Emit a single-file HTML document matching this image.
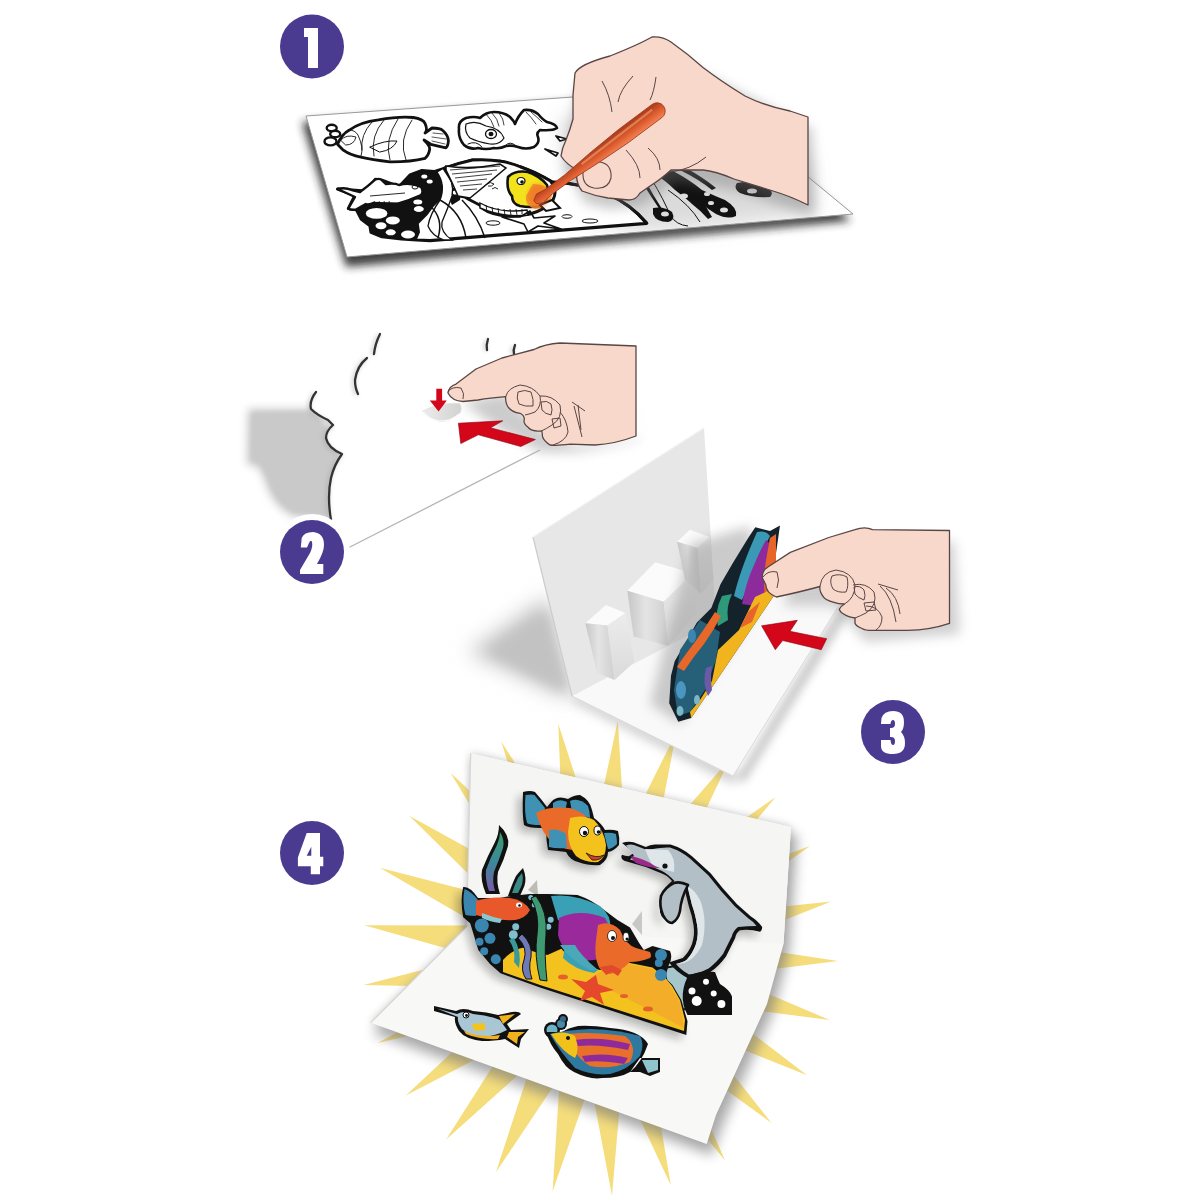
<!DOCTYPE html>
<html><head><meta charset="utf-8"><title>Steps</title>
<style>
html,body{margin:0;padding:0;background:#fff;width:1200px;height:1200px;overflow:hidden;font-family:"Liberation Sans",sans-serif;}
svg{display:block;position:absolute;left:0;top:0;}
</style></head><body>
<svg width="1200" height="1200" viewBox="0 0 1200 1200">
<defs>
<filter id="b2" x="-50%" y="-50%" width="200%" height="200%"><feGaussianBlur stdDeviation="2"/></filter>
<filter id="b4" x="-50%" y="-50%" width="200%" height="200%"><feGaussianBlur stdDeviation="4"/></filter>
<filter id="b6" x="-50%" y="-50%" width="200%" height="200%"><feGaussianBlur stdDeviation="6"/></filter>
<filter id="b10" x="-50%" y="-50%" width="200%" height="200%"><feGaussianBlur stdDeviation="10"/></filter>
</defs>
<rect width="1200" height="1200" fill="#fff"/>

<!-- ===== STEP 1 ===== -->
<g id="s1">
<polygon points="302,122 700,93 851,221 346,267" fill="#222" filter="url(#b4)" opacity="0.85"/>
<polygon points="306,116 700,88 853,214 347,257" fill="#fff" stroke="#999" stroke-width="1"/>
<!-- hand shadow on sheet -->
<path d="M560,120 L700,90 L809,160 L815,214 L720,226 L640,232 L575,215 Z" fill="#999" opacity="0.35" filter="url(#b10)"/>
<g stroke="#111" stroke-linejoin="round" stroke-linecap="round" fill="none">
 <!-- fish 1 bubbles -->
 <ellipse cx="331.7" cy="128" rx="5" ry="3.2" stroke-width="2.4" fill="#fff"/>
 <ellipse cx="335.2" cy="134" rx="5" ry="3.2" stroke-width="2.4" fill="#fff"/>
 <ellipse cx="330.5" cy="141.4" rx="6" ry="4" stroke-width="2.4" fill="#fff"/>
 <!-- fish 1 body -->
 <path d="M337.5,144.3 Q342,134 349,130.3 Q360,122 378.3,119.8 Q400,116 413.3,117.5 Q423,119 425,123.3 Q428,130 425,133 L432,128 Q440,128 442.5,130.3 Q448,135 448.4,140.8 Q448,146 446,147.8 Q438,146 430.8,144.3 L424,140 Q430,146 429.7,149 Q429,155 425,158.3 Q410,162 390,161.8 Q372,160 360.8,157.2 Q350,155 343.3,150.2 Z" stroke-width="2.8" fill="#fff"/>
 <path d="M361,156 Q364,148 358,135 Q355,130 349,130 M372,122 Q360,135 362,150 M384,120 Q370,136 374,156 M398,119 Q384,140 390,160 M412,120 Q398,140 406,160" stroke-width="0.9"/>
 <path d="M370,147 Q385,140 397,141 Q393,150 380,152 Z" stroke-width="1"/>
 <path d="M341,140 Q346,134 356,137 Q354,145 346,145 Z" stroke-width="0.9"/>
 <path d="M432,137 L446,139 M433,133 L443,134 M432,141 L445,144" stroke-width="0.7"/>
 <!-- fish 2 -->
 <path d="M459,129 Q458,121 466,118 Q474,116 480,118 Q486,112 494,112 Q504,112 510,117 Q514,121 515,124 Q518,116 524,110 Q532,109 538,114 Q543,120 547,122 Q556,124 557,128 Q553,131 540,130 Q536,133 538,137 Q540,143 534,147 Q526,150 518,147 Q512,145 506,146 Q500,149 494,148 Q486,150 478,148 Q470,150 464,145 Q458,138 459,129 Z" stroke-width="2.6" fill="#fff"/>
 <path d="M486,114 Q492,120 494,127 M492,113 Q498,119 499,126 M499,113 Q504,119 504,125 M526,112 Q532,118 536,124 M531,112 Q537,117 542,122" stroke-width="0.8"/>
 <path d="M466,124 Q476,120 486,126 Q500,128 504,138 Q500,145 490,144 Q478,142 470,138 Q464,132 466,124 Z" stroke-width="1.2"/>
 <ellipse cx="491" cy="134" rx="5.5" ry="4.5" stroke-width="1.3"/>
 <ellipse cx="491" cy="134" rx="2.5" ry="2.2" fill="#111" stroke="none"/>
 <path d="M468,144 Q476,140 482,147 M505,146 Q510,140 516,146" stroke-width="1"/>
 <path d="M556,136 L567,139 L560,141 Z M545,149 L558,153 L556,156 Z" stroke-width="1.8" fill="#fff"/>
</g>
<!-- lower piece outline -->
<path d="M337.6,189 L351.7,190 L365.8,191 L375.5,179.3 L382,180.3 L399,186.8 L410,175 L422,170.6 L434,171.7 L444,168.4 L472.5,160 L500.8,161.3 L520.7,167 L543.3,177 L552,182 Q615,185 646.7,223.3 L430,240.6 L416.7,240 L401.5,238.8 L382,236.7 L371,232.3 L370,225.8 L361.4,219.3 L357,210.7 L356,209.6 L348.4,208.5 L355,195.5 Z" fill="#fff" stroke="#111" stroke-width="3.2" stroke-linejoin="round"/>
<!-- black mass left -->
<path d="M365.8,191 L375.5,181 L382,182 L399,187 L410,175 L422,170.6 L434,171.7 L442,168.8 L447,180 L447,193.3 L438.3,202 L434,206.3 L427.5,215 L418.8,223.7 L420,232.3 L416.7,240 L401.5,238.8 L382,236.7 L371,232.3 L370,225.8 L361.4,219.3 L357,210.7 L360,204 Z" fill="#111"/>
<path d="M440,170 L460,163 L462,180 L460,200 L452,205 L447,195 Z" fill="#111"/>
<!-- white bubbles -->
<g fill="#fff">
 <ellipse cx="376.6" cy="213.4" rx="10.8" ry="5.4"/>
 <ellipse cx="392.8" cy="220.4" rx="7" ry="4"/>
 <ellipse cx="381" cy="225.8" rx="5.5" ry="3.5"/>
 <ellipse cx="390.7" cy="232.3" rx="5" ry="3"/>
 <ellipse cx="408" cy="234.5" rx="7" ry="4"/>
 <ellipse cx="417.8" cy="202" rx="4.5" ry="2.5"/>
 <ellipse cx="418.8" cy="209" rx="5" ry="3"/>
 <ellipse cx="424.3" cy="176.5" rx="3" ry="2"/>
 <ellipse cx="429.7" cy="181.4" rx="3" ry="2"/>
 <ellipse cx="454" cy="186" rx="3" ry="2"/>
 <ellipse cx="455.5" cy="192.5" rx="3" ry="2"/>
</g>
<!-- white seaweed strand -->
<path d="M437,172 Q446,185 440,200 Q430,214 428,226 Q432,236 444,240 L452,240 Q440,232 442,222 Q448,208 452,196 Q455,182 444,168 Z" fill="#fff" stroke="#111" stroke-width="1.3"/>
<!-- swordfish -->
<path d="M337.6,189 Q345,187 351.7,190 L360,192 Q368,186 375.5,179.3 Q380,178 382,180.3 L386,184 Q395,183 399,185 Q410,182 421,187 Q424,192 421,195 Q410,200 397,204 L373,203 Q368,205 365.8,204 L356,209.6 Q350,210 348.4,208.5 L355,197 Z" fill="#fff" stroke="#111" stroke-width="2.4" stroke-linejoin="round"/>
<path d="M370,196 L405,193 M374,203 L398,203" stroke="#111" stroke-width="0.9"/>
<path d="M374,201 L376,204 M379,201 L380,204 M384,201 L385,204 M389,201 L390,204" stroke="#111" stroke-width="0.8"/>
<ellipse cx="415" cy="187" rx="3" ry="2" fill="none" stroke="#111" stroke-width="1"/>
<!-- big fish -->
<path d="M444,168.4 Q458,163 472.5,160 Q488,159 500.8,161.3 Q512,163 520.7,167 Q535,172 543.3,177 L550.4,181 Q558,190 553,200 Q545,210 530,214 Q515,217 500.8,215.2 Q485,213 479.6,205 L470,200 Q465,196 460,196 Q455,185 444,168.4 Z" fill="#fff" stroke="#111" stroke-width="3" stroke-linejoin="round"/>
<path d="M446,166 Q470,170 500,164 L506,168 Q480,190 470,198 L458,196 Q452,182 446,170 Z" fill="#fff" stroke="#111" stroke-width="1.6"/>
<path d="M450,170 L500,166 M452,174 L497,170 M455,178 L492,174 M457,182 L487,179 M460,186 L482,184 M463,190 L477,189" stroke="#111" stroke-width="0.8"/>
<path d="M480,203 Q500,214 527,210 L528,215 Q503,218 480,208 Z" fill="#fff" stroke="#111" stroke-width="1.4"/>
<path d="M486,205 L487,212 M492,207 L493,214 M498,208 L499,215 M504,209 L505,215 M510,209 L511,215 M516,209 L517,215 M522,209 L522,214" stroke="#111" stroke-width="0.9"/>
<path d="M487,184 Q490,181 494,184 Q492,187 488,186 M492,189 Q495,186 498,189" stroke="#111" stroke-width="0.9" fill="none"/>
<!-- seaweed lines -->
<path d="M430,206 Q444,218 438,238 M440,200 Q462,212 466,238 M462,200 Q478,216 485,238" stroke="#111" stroke-width="1.5" fill="none"/>
<!-- starfish & bubbles bottom -->
<path d="M502,217 L520,217 L530,211 L534,218 L555,216 L544,223 L561,229 L538,226 L528,232 L524,224 Z" fill="none" stroke="#111" stroke-width="1.6" stroke-linejoin="round"/>
<ellipse cx="493" cy="223" rx="7" ry="2.2" fill="none" stroke="#111" stroke-width="1"/>
<ellipse cx="567" cy="216.5" rx="5" ry="1.8" fill="none" stroke="#111" stroke-width="1"/>
<ellipse cx="590" cy="221" rx="8" ry="2" fill="none" stroke="#111" stroke-width="1"/>
<!-- yellow painted fish head -->
<path d="M508,177 Q515,170 528,172 Q540,176 547,185 Q550,198 542,206 Q530,208 520,206 Q512,204 512,196 Q506,190 508,177 Z" fill="#f3e31d" stroke="#111" stroke-width="2.6"/>
<path d="M533,184 Q548,184 552,195 Q550,208 535,209 Q525,206 526,196 Z" fill="#ef8a2a" opacity="0.85"/>
<ellipse cx="521" cy="181" rx="4" ry="3.5" fill="#fff" stroke="#111" stroke-width="1.2"/>
<circle cx="522" cy="182" r="1.8" fill="#111"/>
<path d="M540,205 L552,200 L560,208 L546,211 Z" fill="#fff" stroke="#111" stroke-width="2"/>
<!-- piece right curve -->
<path d="M552,182 Q615,185 646.7,223.3" stroke="#111" stroke-width="3.2" fill="none"/>
<!-- right black seaweed stripes -->
<g fill="#111">
 <path d="M641.7,181.7 Q650,195 660,210 L662,209 Q653,195 645,180 Z"/>
 <path d="M653,173 Q665,180 675,190 Q688,200 692,204 Q700,210 708,219 L712,217 Q706,206 700,198 Q690,188 680,178 Q668,170 660,168 Z"/>
 <path d="M673,171 Q690,180 702,190 Q715,196 725,200 Q738,208 736,216 Q728,220 716,214 Q700,204 690,194 Q676,182 668,172 Z"/>
 <path d="M653,208 Q664,206 672,212 Q676,220 668,222 Q656,222 653,214 Z"/>
 <path d="M737,183 Q752,180 766,186 Q775,192 770,197 Q752,198 740,193 Q733,188 737,183 Z"/>
 <path d="M680,170 Q700,180 712,190 L716,188 Q704,178 686,168 Z"/>
</g>
<g fill="#ddd">
 <ellipse cx="684" cy="196" rx="4" ry="2.5"/><ellipse cx="707" cy="194" rx="3" ry="2"/><ellipse cx="711" cy="203" rx="3" ry="2"/>
 <ellipse cx="724" cy="210" rx="4" ry="2.5"/><ellipse cx="752" cy="191" rx="5" ry="2.5"/><ellipse cx="665" cy="214" rx="4" ry="2.5"/>
</g>
<path d="M652,180 Q664,200 670,215 Q676,225 688,226 M668,190 Q690,205 700,222" stroke="#111" stroke-width="1" fill="none"/>
<!-- hand shadow -->
<path d="M575,78 L652,42 L809,122 L812,210 L735,184 L672,174 L640,198 L607,202 L582,196 L562,160 Z" fill="#777" filter="url(#b6)" opacity="0.4" transform="translate(3,7)"/>
<!-- hand -->
<path d="M575,73 Q580,64 610,56 Q640,44 652,37 Q662,36 671,42 Q688,54 703,67.5 Q722,82 745,96 Q765,106 790,111 L808,117 L808,205 Q790,196 773,191 L734,179 Q715,171 703,170 L671,170 Q660,180 650,186 L640,193 Q636,200 629,200 L608,198 Q595,196 582,191 Q575,182 577,170 Q566,164 561,156 Q562,148 566,140 Q570,130 573,119 L573,95 Z" fill="#f8d8ca" stroke="#5a4545" stroke-width="1.3" stroke-linejoin="round"/>
<path d="M602,81 Q610,95 612,112 M633,76 Q620,90 618,102 M656,77 Q654,92 650,100 M626,150 Q640,165 640,178 M648,148 Q660,158 660,170 M706,157 Q690,170 670,172" stroke="#5a4545" stroke-width="1" fill="none"/>
<path d="M583,172 Q585,160 600,162 Q612,164 611,178 Q608,190 594,188 Q582,186 583,172 Z" fill="none" stroke="#5a4545" stroke-width="1.1"/>
<!-- pen glow -->
<ellipse cx="538" cy="196" rx="10" ry="12" fill="#f06a2a" opacity="0.55" filter="url(#b2)"/>
<!-- pen -->
<defs><linearGradient id="peng" gradientUnits="userSpaceOnUse" x1="539.8" y1="208.4" x2="530.2" y2="195.6"><stop offset="0" stop-color="#f08050"/><stop offset="0.45" stop-color="#dc5a2e"/><stop offset="1" stop-color="#a63a1a"/></linearGradient></defs>
<path d="M536.2,203.6 L543.1,202.8 L549.4,196.2 L569.5,181.3 L599.0,162.4 L628.1,142.8 L661.9,117.6 A8.2,8.2 0 0 0 652.1,104.4 L652.1,104.4 L618.3,129.7 L591.2,151.9 L564.7,174.9 L544.6,189.8 L536.5,194.0 L533.8,200.4 Z" fill="url(#peng)" stroke="#9a3015" stroke-width="0.8"/>
<path d="M581.6,164.1 L652.2,109.6" stroke="#f5a070" stroke-width="2.2" opacity="0.6"/>
</g>

<!-- ===== STEP 2 ===== -->
<g id="s2">
<!-- gray shadow -->
<path d="M248,409 L312,409 L340,440 L336,520 L292,516 Q276,508 268,490 Q262,472 258,467 L247,464 Z" fill="#c9c9c9" filter="url(#b4)"/>
<path d="M252,413 L312,412 L336,440 L334,516 L294,512 Q280,504 272,488 Q266,472 260,463 L251,460 Z" fill="#c9c9c9" filter="url(#b2)"/>
<!-- white card body -->
<path d="M316,392 Q309,401 311,409 Q317,415 328,420 L333,425 Q326,431 326,438 Q328,448 342,454 Q334,465 331,478 Q327,496 331,520 L348,548 L540,450 L636,440 L636,346 L515,344 Q500,336 487,339 Q450,330 380,334 Q374,345 374,354 Q360,360 356,370 Q354,382 358,394 Z" fill="#fff"/>
<g fill="none" stroke="#999" stroke-width="3" opacity="0.5" filter="url(#b2)" transform="translate(-1.5,1)">
 <path d="M316,392 Q309,401 311,409 Q317,415 328,420 L333,425 Q326,431 326,438 Q328,448 342,454 Q334,465 331,478 Q327,496 331,520"/>
 <path d="M380,334 Q375,344 374,354"/>
 <path d="M367,358 Q357,366 355,380 Q355,388 358,394"/>
 <path d="M488,339 Q486,345 487,350"/>
 <path d="M515,345 Q513,350 514,354"/>
</g>
<g fill="none" stroke="#333" stroke-width="2.3" stroke-linecap="round" stroke-linejoin="round">
 <path d="M316,392 Q309,401 311,409 Q317,415 328,420 L333,425 Q326,431 326,438 Q328,448 342,454 Q334,465 331,478 Q327,496 331,520"/>
 <path d="M380,334 Q375,344 374,354"/>
 <path d="M367,358 Q357,366 355,380 Q355,388 358,394"/>
 <path d="M488,339 Q486,345 487,350"/>
 <path d="M515,345 Q513,350 514,354"/>
</g>
<path d="M348,548 L540,450" stroke="#b5b5b5" stroke-width="1.3" fill="none"/>
<!-- hand shadow -->
<path d="M462,402 L505,393 L540,430 L578,446 L640,438 L646,350 L640,440 L580,452 L540,452 L500,430 Z" fill="#999" opacity="0.5" filter="url(#b6)"/>
<!-- sticker -->
<defs><linearGradient id="stk" x1="0" y1="0" x2="1" y2="0"><stop offset="0" stop-color="#ececec"/><stop offset="1" stop-color="#d2d2d2"/></linearGradient></defs>
<path d="M422.5,411 Q440,402 460,403.5 Q463,410 459,414 Q450,422 440,421.5 Q428,419 422.5,411 Z" fill="url(#stk)" stroke="#e2e2e2" stroke-width="0.8"/>
<path d="M423,412 Q430,420 440,421 Q452,421 459,414" fill="none" stroke="#fafafa" stroke-width="1.2"/>
<!-- small down arrow -->
<path d="M436.3,388.8 L442.1,388.8 L442.1,400.4 L446.8,400.4 L438.6,411.5 L429.8,400.4 L436.3,400.4 Z" fill="#d4061a"/>
<!-- big arrow -->
<path d="M458.4,423.2 L502.8,420.8 L490.5,427.8 L535.4,439.5 L520.8,446.5 L478.3,434.8 L460.8,443.6 Z" fill="#d4061a" stroke="#8a0010" stroke-width="0.6"/>
<!-- hand -->
<path d="M448,393 Q449,386 456,384 L476,369 L502,358 L534,349.5 Q545,344 560,343 L636,346 L636,436 Q615,444 595,445 L570,444.2 Q556,446 550,445 Q544,441 542.5,436.7 Q542,431 541.7,430.8 Q532,432 528.3,427.5 Q523,423 524.2,420 Q525,416 520,413.3 Q510,412 507,405 Q505,400 505.8,396.7 Q490,398 478,400 L463,401.5 Q452,401 448,393 Z" fill="#f8d8ca" stroke="#5a4545" stroke-width="1.3" stroke-linejoin="round"/>
<g fill="none" stroke="#5a4545" stroke-width="1">
 <path d="M447.5,392 Q452,386 461,388 Q465,394 463,399"/>
 <path d="M506,396 Q508,388 520,385 Q533,386 540,396 Q542,406 535,412 Q530,414 525,415"/>
 <path d="M518,392 Q525,389 531,392 Q534,400 533,406 Q525,407 519,404 Q516,398 518,392 Z"/>
 <path d="M540,396 Q552,395 560,405 Q563,418 552,425 Q546,429 541.7,430.8"/>
 <path d="M541,402 Q547,400 551,404 Q553,410 551,415 Q545,414 542,410 Z"/>
 <path d="M560,412 Q567,420 568,432 Q566,441 553,445"/>
 <path d="M552,419 L560,418 L561,426 L554,428 Z"/>
 <path d="M572,402 L585,411 M574,406 L582,437 M578,405 L581,430"/>
</g>
</g>

<!-- ===== STEP 4 ===== -->
<g id="s4">
<!-- sunburst -->
<path d="M838.0,960.9 L723.8,975.2 L829.8,1020.0 L715.7,1005.4 L807.1,1075.2 L700.2,1032.7 L771.5,1123.0 L678.5,1055.3 L725.1,1160.5 L651.8,1071.7 L670.8,1185.2 L621.9,1081.1 L612.0,1195.7 L590.6,1082.6 L552.6,1191.2 L559.9,1076.4 L496.0,1172.1 L531.7,1062.7 L446.1,1139.5 L507.8,1042.4 L405.8,1095.5 L489.7,1016.9 L377.7,1042.9 L478.6,987.6 L363.5,984.9 L475.0,956.5 L364.3,925.3 L479.3,925.4 L379.8,867.7 L491.2,896.4 L409.2,815.8 L509.9,871.3 L450.5,772.8 L534.3,851.6 L501.3,741.4 L562.8,838.7 L558.3,723.7 L593.7,833.2 L617.8,720.7 L624.9,835.5 L676.3,732.6 L654.6,845.6 L730.0,758.6 L680.8,862.7 L775.5,797.2 L702.0,885.8 L809.9,845.9 L716.8,913.4 L831.2,901.6 L724.2,943.8 Z" fill="#f5dd7c"/>
<!-- card shadow -->
<path d="M471,756 L794,830 L786,946 L770,1006 L720,1118 L708,1150 L368,1028 L466,930 Z" fill="#777" opacity="0.55" filter="url(#b6)" transform="translate(4,6)"/>
<path d="M470.7,753.3 L791,827 L783.5,944 L767,1004 L716,1115 L706.7,1144 L370.7,1022.7 L466.7,926.7 Z" fill="#888" opacity="0.45" filter="url(#b4)"/>
<!-- card -->
<path d="M470.7,753.3 L791,827 L783.5,944 L767,1004 L716,1115 L706.7,1144 L370.7,1022.7 L466.7,926.7 Z" fill="#f8f8f6"/>
<path d="M470.7,753.3 L791,827 L783.5,944 L466.7,926.7 Z" fill="#f5f5f4"/>
<path d="M470.7,753.3 L466.7,926.7 L370.7,1022.7" fill="none" stroke="#d6d6d6" stroke-width="1.2"/>
<!-- scene 4 -->
<!-- tabs -->
<path d="M528,890 L537,880 L538,896 Z" fill="#bdbdb5"/>
<path d="M632,924 L642,911 L642,935 Z" fill="#c8c8c8"/>
<!-- scene shadows -->
<g fill="#000" opacity="0.28" filter="url(#b4)" transform="translate(-5,5)">
 <use href="#cfo"/><use href="#dolo"/><use href="#reefo"/>
</g>
<!-- top clownfish -->
<path id="cfo" d="M523,792 Q530,790 535,792 Q542,800 547,807 L552,801 Q558,795 568,799 Q574,795 580,795 Q590,800 592,810 L594,818 Q602,824 605,830 Q612,829 618,831 Q620,838 619,845 Q614,851 608,852 Q608,860 600,865 Q590,866 578,862 Q570,860 566,852 Q558,851 548,850 Q546,840 546,828 L540,828 Q528,828 524,825 Q522,815 523,792 Z" fill="#111"/>
<path d="M525.5,795 Q532,794 534.5,795 L545,808 L540,825 Q530,825 527,823 Q524,812 525.5,795 Z" fill="#3f92b4"/>
<path d="M553,803 Q559,798 567,802 L565,812 L553,812 Z" fill="#3f92b4"/>
<path d="M570,801 Q579,797 588,806 Q590,812 590,818 L572,812 Z" fill="#3f92b4"/>
<path d="M536,813 Q548,806 570,808 Q585,812 590,822 Q592,838 585,850 Q570,852 555,845 Q542,835 536,813 Z" fill="#ea6a2a"/>
<path d="M570,818 Q583,814 594,820 Q604,830 606,845 Q606,858 598,862 Q585,863 576,856 Q568,846 568,832 Z" fill="#f4c21c"/>
<path d="M549,830 Q558,828 566,834 L567,848 Q556,849 549,847 Z" fill="#3f92b4"/>
<path d="M604,833 Q611,832 616,834 Q617,840 617,844 Q612,849 608,849 Z" fill="#3f92b4"/>
<ellipse cx="584" cy="831.5" rx="4.5" ry="5" fill="#fff" stroke="#111" stroke-width="1"/>
<ellipse cx="597.5" cy="830.5" rx="3.5" ry="4.5" fill="#fff" stroke="#111" stroke-width="1"/>
<circle cx="585" cy="833" r="2.2" fill="#111"/><circle cx="598.5" cy="832" r="1.8" fill="#111"/>
<path d="M586,853 Q596,859 604,855 Q600,861 592,860 Z" fill="#d0402a" stroke="#111" stroke-width="0.8"/>
<!-- dolphin -->
<path d="M686,964 L693,1008 L680,1010 L668,990 L664,968 Z" fill="#a6c6cc" stroke="#111" stroke-width="2"/>
<path id="dolo" d="M622,843.1 Q628,841 633.5,842.3 L645.8,847 Q650,845 655,844.6 L670.5,844.6 Q682,848 692,856.2 L710.6,873.2 L723,888.6 L736.8,904 L750.6,916.3 Q758,921 762.2,927.1 Q762,931 760,931.7 Q750,929 739.9,930.2 Q736,933 735.2,937.9 L726,956.4 Q719,966 710.6,971.8 Q698,978 687.4,978 Q676,972 669,962.6 Q676,960 682.8,958 Q689,952 692,944 Q695,935 693.6,925.6 Q692,915 689,907 L684.4,888.6 Q680,886 676.7,887 Q670,889 665.9,894.7 Q663,902 664.3,910.2 Q666,918 669,921 Q662,920 660,912 Q659,898 664,890 Q668,884 672,880.9 Q667,875 661.2,873.2 L645.8,867 L624.2,860.8 Q620,858 622,854.7 Q625,856 628.9,856.2 Q632,854 635,853 Q628,848 622,843.1 Z" fill="#111"/>
<path d="M626,845.5 Q630,844 634,845 L647,850 Q660,847 670,847.5 Q681,851 690,858.5 L708.5,875.5 L721,891 L735,906.5 L748.5,918.5 Q754,922 756.5,926 Q748,926 738,927 Q733,931 732,936 L723,954 Q716,963 708.5,968.5 Q698,974 689,974.5 Q681,970 676,964 Q684,962 686.5,960 Q693,953 696,944 Q699,934 697,924.5 Q695,913 692,905 L687.5,886.5 Q681,883 675.5,884 Q668,886 663,893 Q661,898 661,905 Q661,895 666,888 L674.5,881 Q668,874 662,871 L646,864 L630,859.5 L634,856 Q632,852 626,845.5 Z" fill="#b3bfc6"/>
<path d="M687.5,886.5 L692,905 Q695,913 697,924.5 Q699,934 696,944 Q693,953 686.5,960 Q684,962 676,964 Q692,965 702,945 Q708,920 700,900 Q695,890 687.5,886.5 Z" fill="#dfe6e9"/>
<path d="M645,849 L668,850 Q676,858 674,872 Q664,870 652,865 Q648,857 645,849 Z" fill="#dfe6e9"/>
<path d="M631,856 Q645,859 655,866 L660,868 Q648,868 636,863 Q632,860 631,856 Z" fill="#9a2a8a"/>
<circle cx="665" cy="866" r="2.6" fill="#111"/>
<path d="M688,885 Q680,881 674,883 Q665,887 661,896 Q659,906 663,915 Q667,923 672,923 Q678,920 680,911 Q681,898 688,885 Z" fill="#b3bfc6" stroke="#111" stroke-width="2.6" stroke-linejoin="round"/>
<!-- black bubble piece below dolphin -->
<path d="M689,975 Q702,970 715,972 Q718,980 720,984 Q730,990 732,996.5 L732,1015 L687.5,1015 Q682,1005 682.8,993.4 Q684,982 689,975 Z" fill="#111"/>
<g fill="#fff"><circle cx="706" cy="981.8" r="3"/><circle cx="692" cy="991" r="3.5"/><circle cx="713.7" cy="993.4" r="3"/><circle cx="696.7" cy="1001" r="5"/><circle cx="721.4" cy="1004" r="4"/></g>
<!-- seaweed tall -->
<defs><linearGradient id="swg" x1="0" y1="0" x2="0" y2="1"><stop offset="0" stop-color="#3f9a6a"/><stop offset="0.5" stop-color="#3a8a9a"/><stop offset="1" stop-color="#7a5aa8"/></linearGradient></defs>
<path d="M499,825 Q510,835 508,846 Q504,860 498,872 Q496,882 500,894 L486,894 Q480,880 482,870 Q488,855 495,842 Q499,834 499,825 Z" fill="#111"/>
<path d="M500,832 Q505,840 503,848 Q499,860 494,872 Q492,882 495,891 L489,891 Q485,880 486,870 Q491,856 497,845 Q500,838 500,832 Z" fill="url(#swg)"/>
<path d="M523,868 Q527,878 524.4,886 L520,896 L508,896 Q512,884 516,876 Q520,871 523,868 Z" fill="#111"/>
<path d="M522,873 Q524,880 521,887 L518,893 L512,893 Q515,884 518,878 Z" fill="#3a8a88"/>
<!-- reef piece -->
<path id="reefo" d="M463.2,887 Q470,886 478,898 L500,898 L508.7,896.3 L530,894 L548.3,894 L577.5,895 Q592,900 602.5,908.8 L617.5,920 L630,927.5 L638.8,942.5 L643.8,950 L652.5,946 L670,951 Q673,958 668.8,965 L665,977.5 L672.5,985 L681.3,1000 L687.5,1021.3 L686.3,1035 L540,987.5 L500.5,973.3 L490,964 L478.3,950 L474.8,938.3 L470.2,923.2 L463.2,917.3 Q460,900 463.2,887 Z" fill="#111"/>
<!-- yellow sand -->
<path d="M503,960 Q512,950 522.7,947.7 L535,952 L547.5,955 L561.3,948.8 Q575,965 600,970 L627.5,962.5 L652.5,967.5 L665,977.5 L672,986 L680,1000 L685,1020 L684,1031 L540,985 L503,972 Z" fill="#f4c21e"/>
<path d="M600,972 L627.5,964 L652.5,969 L668,982 L680,1002 L684,1028 Q650,1010 620,995 Q600,985 590,978 Z" fill="#f2a82a" opacity="0.8"/>
<!-- starfish -->
<path d="M571,979 L586,982 L596,975 L598,984 L614,990 L600,993 L604,1005 L592,997 L580,1001 L585,991 Z" fill="#e5482a"/>
<g fill="#e5602a"><ellipse cx="563" cy="977" rx="5" ry="2.5"/><ellipse cx="624" cy="996" rx="4" ry="2"/><ellipse cx="648" cy="1009" rx="5" ry="2.5"/></g>
<!-- small orange fish -->
<path d="M464.5,889 Q472,892 478,900 L476,916 Q470,916 465.5,915 Q462,902 464.5,889 Z" fill="#3a86ae"/>
<path d="M476,901 Q490,896 510,898 Q524,900 530,910 Q526,918 515,920 Q495,921 476,915 Z" fill="#e8582a"/>
<path d="M482,913 Q492,917 502,919 L500,923 Q490,922 482,918 Z" fill="#8ac8d0"/>
<ellipse cx="519" cy="905" rx="3" ry="2.5" fill="#fff"/><circle cx="519.5" cy="905.5" r="1.3" fill="#111"/>
<!-- bubbles on black -->
<g fill="#3a86b0"><circle cx="481.8" cy="925.5" r="7"/><circle cx="490" cy="938.3" r="5.5"/><circle cx="479.5" cy="941.8" r="4"/><circle cx="484.2" cy="951.2" r="4"/><circle cx="495.8" cy="959.3" r="5"/></g>
<g fill="#7fbfcf"><circle cx="513.3" cy="934.8" r="4.5"/><circle cx="515.7" cy="926.7" r="3.5"/><circle cx="530.8" cy="897.5" r="2.5"/><circle cx="534.3" cy="905" r="2.5"/><circle cx="550.7" cy="919.7" r="3"/><circle cx="548.3" cy="926.7" r="3"/></g>
<!-- seaweed in reef -->
<path d="M531,898 Q540,915 537,935 Q534,955 540,980 L547,981 Q544,955 546,935 Q548,912 536,896 Z" fill="#3f9a72" stroke="#111" stroke-width="1"/>
<path d="M518,938 Q528,948 524,960 Q520,970 526,979 L532,979 Q528,968 531,957 Q533,944 522,934 Z" fill="#6e7ab8" stroke="#111" stroke-width="1"/>
<path d="M509,940 Q516,950 514,962 L519,968 Q522,952 514,938 Z" fill="#3a9a9a"/>
<!-- big fish in reef -->
<path d="M551,896 Q575,893 600,906 Q612,916 610,928 L590,935 Q570,925 558,920 Z" fill="#3aa0b5"/>
<path d="M559,918 Q580,908 605,918 Q615,935 610,955 Q598,962 580,960 Q562,952 558,935 Z" fill="#9a2a9c"/>
<path d="M565,946 Q580,962 598,970 L594,973 Q575,970 563,958 Z" fill="#3aa0b5"/>
<path d="M560,945 Q570,960 590,970 L598,970 Q580,955 575,945 Z" fill="#4aa8b8"/>
<path d="M598,925 Q610,920 620,930 Q626,945 636,948 L650,952 Q652,956 650,958 Q640,962 630,962 Q620,972 610,974 Q600,972 598,965 Q594,955 596,940 Z" fill="#ea6a2a"/>
<path d="M600,967 L606,975 L612,972 L618,976 L622,970 L612,965 Z" fill="#e04a2a"/>
<ellipse cx="612" cy="936" rx="4.5" ry="5.5" fill="#fff" stroke="#111" stroke-width="0.8"/>
<ellipse cx="626" cy="937" rx="3" ry="4.5" fill="#fff" stroke="#111" stroke-width="0.8"/>
<circle cx="613" cy="938" r="2" fill="#111"/><circle cx="627" cy="939" r="1.5" fill="#111"/>
<g fill="#3a86b0"><circle cx="661" cy="955" r="6"/><circle cx="658.8" cy="963" r="4"/><circle cx="661" cy="975" r="6"/></g>
<!-- bottom swordfish -->
<path d="M434,1006 L456,1011 Q463,1007 473,1011 Q487,1012 498,1015 L512,1012 Q519,1011 521,1014 L507,1024 L511,1030 L529,1029 L521,1039 L519,1048 L505,1039 Q495,1041 482,1041 Q465,1039 459,1031 Q454,1023 455,1017 L434,1011 Z" fill="#111"/>
<path d="M437,1008.5 L457,1014 Q464,1010 473,1014 Q488,1015 500,1020 L507,1030 Q496,1036 482,1037 Q468,1035 462,1029 Q457,1022 458,1017 Z" fill="#a9c6d4"/>
<path d="M499,1016 L515,1014 L503,1024 Z" fill="#f2b21e"/>
<path d="M509,1032 L525,1032 L518,1037 L517,1044 L507,1037 Z" fill="#f2b21e"/>
<path d="M464,1031 Q480,1038 500,1035 L498,1039 Q480,1040 466,1034 Z" fill="#f2b21e"/>
<path d="M472,1024 L484,1023 L486,1030 L474,1031 Z" fill="#f2c21e"/>
<circle cx="466" cy="1015" r="3" fill="#fff" stroke="#111" stroke-width="1"/><circle cx="466.5" cy="1015.5" r="1.4" fill="#111"/>
<!-- bottom round fish -->
<circle cx="552" cy="1030" r="8" fill="#111"/><circle cx="561" cy="1024" r="6" fill="#111"/><circle cx="563" cy="1019" r="5" fill="#111"/>
<circle cx="552" cy="1030" r="5.5" fill="#6fb3c6"/><circle cx="561" cy="1024" r="4" fill="#4a8aa8"/><circle cx="563" cy="1019" r="3" fill="#3a6a88"/>
<path d="M546,1032 Q550,1045 558,1054 Q565,1068 574,1072 Q590,1080 602,1078 Q620,1078 630,1072 L640,1058 L660,1058 L660,1072 L650,1076 L640,1072 Q630,1072 630,1072 Q642,1062 648,1044 Q640,1030 610,1028 Q590,1025 578,1026 Q568,1028 562,1032 Z" fill="#111"/>
<path d="M550,1034 Q560,1052 575,1068 Q592,1076 610,1074 Q628,1070 640,1056 Q645,1044 640,1036 Q620,1030 590,1029 Q566,1030 550,1034 Z" fill="#2f79a0"/>
<path d="M568,1034 Q590,1031 625,1036 Q638,1046 630,1062 Q610,1070 590,1066 Q572,1055 568,1034 Z" fill="#e8702a"/>
<path d="M575,1040 Q600,1036 630,1044 L628,1050 Q600,1044 578,1046 Z M582,1056 Q606,1052 628,1058 L624,1064 Q600,1060 585,1062 Z" fill="#8f2a9a"/>
<path d="M551,1034 Q565,1030 575,1036 Q580,1050 575,1058 Q562,1052 551,1034 Z" fill="#f3c21a"/>
<path d="M642,1060 L658,1060 L658,1070 L648,1073 Z" fill="#8fc4cf"/>
<circle cx="568" cy="1038" r="2" fill="#111"/>
</g>

<!-- ===== STEP 3 ===== -->
<g id="s3">
<!-- floor shadow -->
<path d="M468,652 L548,596 L560,645 L572,696 L562,696 Z" fill="#c6c6c6" filter="url(#b10)"/>
<path d="M488,652 L546,612 L556,650 L570,694 Z" fill="#c2c2c2" filter="url(#b6)"/>
<!-- floor front-edge shadow -->
<path d="M572,700 L733,782 L740,776 L575,694 Z" fill="#888" filter="url(#b6)" opacity="0.6"/>
<!-- floor right-edge shadow -->
<path d="M840,605 L736,778 L745,782 L850,612 Z" fill="#aaa" filter="url(#b4)" opacity="0.6"/>
<!-- floor -->
<polygon points="572,696 883,534 733,776" fill="#f9f9f9"/>
<path d="M572,696 L733,776 L838,607" fill="none" stroke="#dadada" stroke-width="1"/>
<!-- vertical panel -->
<polygon points="533,537 704,428 716,621 572,696" fill="#e7e7e7"/>
<path d="M533,537 L572,696" stroke="#cdcdcd" stroke-width="1.3"/>
<path d="M533,537 L704,428" stroke="#f2f2f2" stroke-width="1.2"/>
<defs>
<linearGradient id="bxf" x1="0" y1="0" x2="1" y2="0"><stop offset="0" stop-color="#c6c6c6"/><stop offset="0.45" stop-color="#e4e4e4"/><stop offset="1" stop-color="#cfcfcf"/></linearGradient>
<linearGradient id="bxr" x1="0" y1="0" x2="0" y2="1"><stop offset="0" stop-color="#ececec"/><stop offset="1" stop-color="#dadada"/></linearGradient>
</defs>
<!-- box A -->
<polygon points="585.3,623.2 605.9,605 625.7,612.9 607.5,625.5" fill="#fbfbfb"/>
<polygon points="585.3,623.2 607.5,625.5 614.6,680.1 597.2,673" fill="url(#bxf)"/>
<polygon points="607.5,625.5 625.7,612.9 634.4,662 614.6,680.1" fill="url(#bxr)"/>
<!-- box B -->
<polygon points="627.3,590.7 655,562.2 693,573.3 663.7,601.8" fill="#fbfbfb"/>
<polygon points="627.3,590.7 663.7,601.8 668.4,646.1 633.6,636.6" fill="url(#bxf)"/>
<polygon points="663.7,601.8 693,573.3 697.7,611.3 668.4,646.1" fill="url(#bxr)"/>
<!-- box C -->
<polygon points="677.1,541.7 689.8,529.8 709.6,536.9 697.7,548" fill="#fbfbfb"/>
<polygon points="677.1,541.7 697.7,548 700.9,593.9 685,579.6" fill="url(#bxf)"/>
<polygon points="697.7,548 709.6,536.9 713.5,579.6 700.9,593.9" fill="url(#bxr)"/>
<!-- fish piece shadow -->
<path d="M700,540 L760,522 L770,600 L690,720 L660,700 Z" fill="#999" opacity="0.5" filter="url(#b6)" transform="translate(-10,4)"/>
<!-- fish piece -->
<path d="M780,525.5 L770,531 L755.3,527.3 L748,538.3 L733.3,562.2 L720.5,584.2 L711.3,608 L696.7,622.7 L687.5,639.2 L674.7,661.2 L671,675.8 L669.2,703.3 L678.3,721.7 L691.2,718 L775.5,593.3 L775.5,556.7 Z" fill="#14222c"/>
<path d="M757,532 Q766,530 770,536 Q760,555 752,575 Q746,592 742,600 L734,596 Q740,570 757,532 Z" fill="#3a9ab5"/>
<path d="M766,540 L774,548 L774,588 L756,606 L742,604 Q746,582 754,565 Q760,550 766,540 Z" fill="#8e2b9c"/>
<path d="M770,538 L776,534 L776,592 L766,600 Q762,585 766,560 Z" fill="#e8642a"/>
<path d="M722,596 Q714,612 718,626 L728,620 Q726,606 732,594 Z" fill="#2f9a7a"/>
<path d="M700,620 L720,632 L716,660 L705,690 L690,712 L678,716 L674,690 L680,650 Z" fill="#255f78"/>
<path d="M715,612 Q705,628 695,642 Q684,656 677,667 L684,671 Q694,656 704,644 Q714,630 721,616 Z" fill="#e8682a"/>
<path d="M775.5,593.3 L691.2,718 L690,712 L700,700 L712,681 L718,650 L739,630 L755,597 L770,590 Z" fill="#f2b41e"/>
<path d="M748,612 L760,602 L752,622 L740,628 Z" fill="#e8642a"/>
<path d="M706,668 Q702,684 708,696 L712,690 Q710,678 712,666 Z" fill="#6a5aa8"/>
<ellipse cx="681" cy="690" rx="5" ry="9" fill="#4a96c0"/>
<ellipse cx="680" cy="711" rx="3.5" ry="5" fill="#7ab6c8"/>
<ellipse cx="692" cy="636" rx="4" ry="7" fill="#3a86b0"/>
<ellipse cx="697" cy="700" rx="3" ry="5" fill="#7ab6c8"/>
<!-- hand shadow -->
<path d="M790,560 L950,535 L956,628 L862,636 L830,600 L780,600 Z" fill="#999" opacity="0.45" filter="url(#b6)" transform="translate(4,6)"/>
<!-- arrow -->
<path d="M761.6,625.8 L797.3,620.3 L790,631.3 L826.7,638.7 L821.2,649.7 L782.7,640.5 L775.3,649.7 Z" fill="#d4061a" stroke="#8a0010" stroke-width="0.6"/>
<!-- hand -->
<path d="M762.3,577.8 Q762,570 767.5,567.3 L790.3,552.4 L828.8,537.5 L855,529.6 Q865,526 872.5,529.6 L949.5,530.5 L949.5,623.3 Q930,630 907.5,630.3 L876,630.3 Q866,631 862,628.5 Q856,626 855,623.3 L855,618 Q848,617 844.5,614.5 Q840,612 839.3,609.3 Q841,606 844.5,604 Q838,604 834,602.3 Q825,600 823.5,597 Q819,591 820,586.5 Q800,592 776.3,597 Q766,593 765.8,584.8 Z" fill="#f8d8ca" stroke="#5a4545" stroke-width="1.3" stroke-linejoin="round"/>
<g fill="none" stroke="#5a4545" stroke-width="1">
 <path d="M763,577 Q768,570 777,572 Q780,580 777,588"/>
 <path d="M820,586 Q822,572 836,570 Q852,572 855,585 Q855,598 844.5,604"/>
 <path d="M832,576 Q840,573 847,577 Q849,586 846,592 Q838,593 833,589 Q829,582 832,576 Z"/>
 <path d="M853,585 Q866,582 874,592 Q878,605 866,613 Q860,616 855,618"/>
 <path d="M854,587 Q860,585 864,590 Q866,596 864,600 Q858,598 855,594 Z"/>
 <path d="M866,606 Q878,606 882,617 Q882,626 876,630"/>
 <path d="M864,603 L874,602 L876,610 L866,611 Z"/>
 <path d="M880,586 Q892,596 896,622 M886,588 Q898,596 900,614 M878,584 L898,590"/>
</g>
</g>

<!-- ===== NUMBER BADGES ===== -->
<g id="badges">
<circle cx="312" cy="552" r="38" fill="#fff"/>
<circle cx="312" cy="46.5" r="32" fill="#4b3b90"/>
<circle cx="312" cy="552" r="32" fill="#4b3b90"/>
<circle cx="893" cy="732" r="32" fill="#4b3b90"/>
<circle cx="312" cy="853" r="32" fill="#4b3b90"/>
<path d="M304,28 L318,28 L318,68 L308,68 L308,37 L304,37 Z" fill="#fff"/>
<path d="M300.8,547.5 L301.7,538 Q304,532 313,532 Q324,533 324,545 Q324,552 317,564 L323.3,564 L323.3,574 L300,574 L300,570 L310,553 Q313,547 312,542 Q311,539 309,543 L307,547.5 Z" fill="#fff"/>
<path d="M881,724 L881.5,718 Q884,711 893,711 Q904,711 904,722 Q904,729 901,732 Q905,736 905,743 Q905,754 893,754 Q881,754 881,746 L881,740 L890.5,740 Q891,745 893,745 Q895,745 895,741 Q895,737 891,737 L890,737 L890,728 L891,728 Q895,728 895,724 Q895,720 893,720 Q891,720 890.5,724 Z" fill="#fff"/>
<path d="M306.7,833 L320,833 L320,856.7 L323.3,856.7 L323.3,866.3 L320,866.3 L320,874.2 L310.8,874.2 L310.8,866.3 L297.9,866.3 L297.9,857.5 Z M306.7,855.8 L311.3,855.8 L311.3,846.7 Z" fill="#fff" fill-rule="evenodd"/>
</g>
</svg>
</body></html>
